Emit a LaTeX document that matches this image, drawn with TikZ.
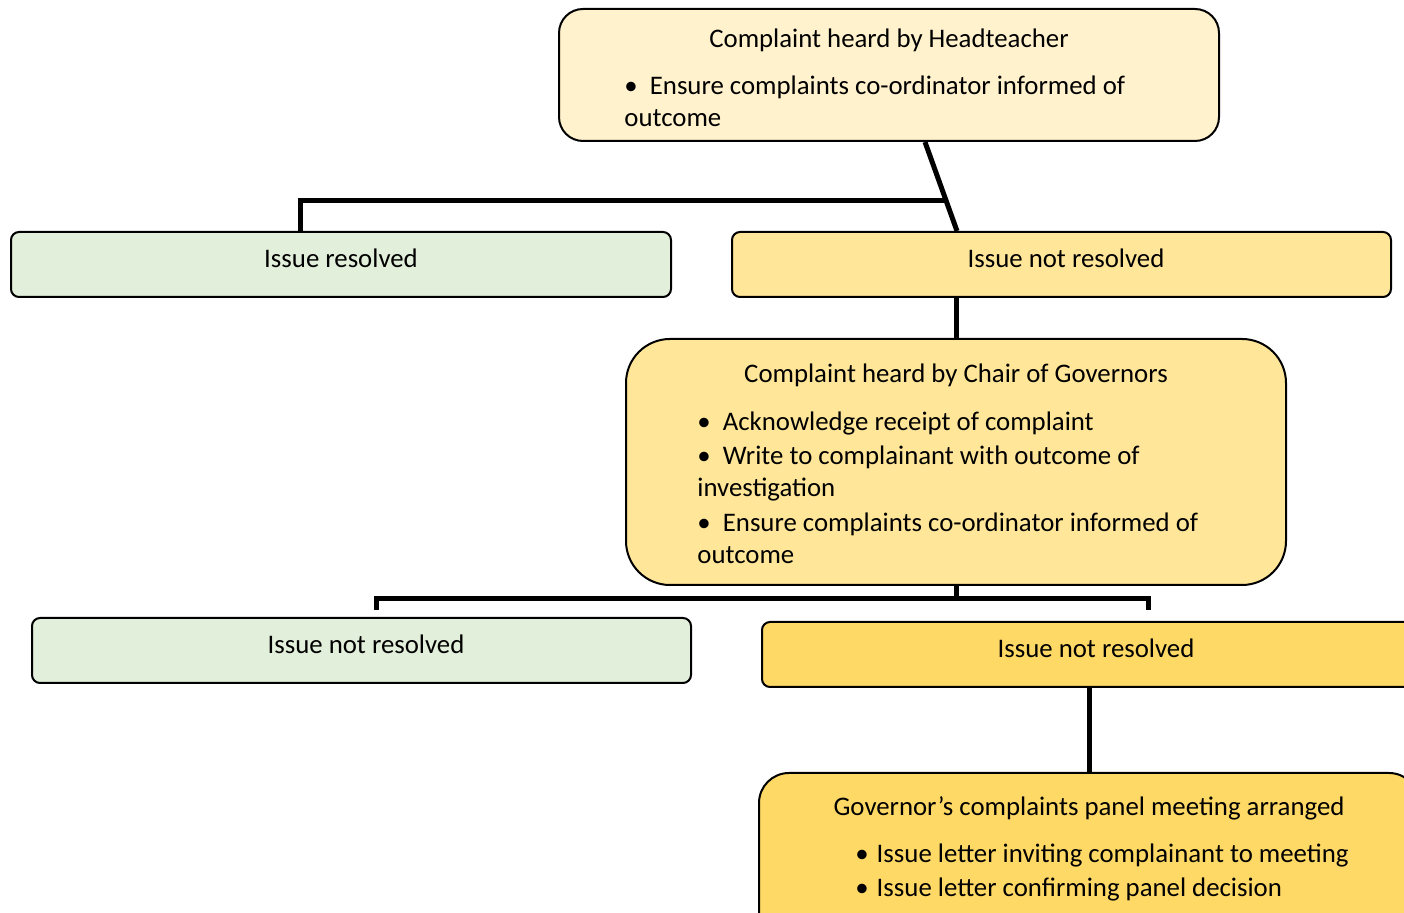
\documentclass[tikz,border=0pt]{standalone}
\usepackage{fontspec}
\setmainfont{Carlito}
\usetikzlibrary{calc}

\definecolor{paleyellow}{HTML}{FFF2CC}
\definecolor{palegreen}{HTML}{E2EFDA}
\definecolor{lightgold}{HTML}{FFE699}
\definecolor{gold}{HTML}{FFD966}

\tikzset{
  box/.style={draw=black, line width=1pt, inner sep=0pt},
  txt/.style={inner sep=0pt, font=\fontsize{13.4}{16}\selectfont},
  link/.style={line width=2.5pt}
}

\begin{document}
\begin{tikzpicture}[x=0.5pt, y=-0.5pt]
    \useasboundingbox (0,0) rectangle (1404,913);
    \clip (0,0) rectangle (1404,913);

    % boxes
    \node[box, fill=paleyellow, rounded corners=12pt, minimum width=330pt, minimum height=66pt] (head) at (889,75) {};
    \node[box, fill=palegreen, rounded corners=4pt, minimum width=330pt, minimum height=32.5pt] (res) at (341,264.5) {};
    \node[box, fill=lightgold, rounded corners=4pt, minimum width=329.5pt, minimum height=32.5pt] (nr1) at (1061.5,264.5) {};
    \node[box, fill=lightgold, rounded corners=22pt, minimum width=330pt, minimum height=123pt] (chair) at (956,462) {};
    \node[box, fill=palegreen, rounded corners=4pt, minimum width=329.5pt, minimum height=32.5pt] (nr2) at (361.5,650.5) {};
    \node[box, fill=gold, rounded corners=4pt, minimum width=333pt, minimum height=32.5pt] (nr3) at (1095,654.5) {};
    \node[box, fill=gold, rounded corners=15pt, minimum width=330pt, minimum height=86pt] (panel) at (1089,859) {};

    % texts
    \node[txt, anchor=mid] (headT) at (889,43) {Complaint heard by Headteacher};
    \node[txt, anchor=mid west] (headA) at (624,90) {•\ \ Ensure complaints co-ordinator informed of};
    \node[txt, anchor=mid west] (headB) at (624,122) {outcome};
    \node[txt, anchor=mid] (resT) at (341,263) {Issue resolved};
    \node[txt, anchor=mid] (nr1T) at (1066,263) {Issue not resolved};
    \node[txt, anchor=mid] (chairT) at (956,378) {Complaint heard by Chair of Governors};
    \node[txt, anchor=mid west] (chairA) at (697,426) {•\ \ Acknowledge receipt of complaint};
    \node[txt, anchor=mid west] (chairB) at (697,460) {•\ \ Write to complainant with outcome of};
    \node[txt, anchor=mid west] (chairC) at (697,492) {investigation};
    \node[txt, anchor=mid west] (chairD) at (697,527) {•\ \ Ensure complaints co-ordinator informed of};
    \node[txt, anchor=mid west] (chairE) at (697,559) {outcome};
    \node[txt, anchor=mid] (nr2T) at (366,649) {Issue not resolved};
    \node[txt, anchor=mid] (nr3T) at (1096,653) {Issue not resolved};
    \node[txt, anchor=mid] (panelT) at (1089,811) {Governor’s complaints panel meeting arranged};
    \node[txt, anchor=mid west] (panelA) at (855,858) {•\hspace{4pt}Issue letter inviting complainant to meeting};
    \node[txt, anchor=mid west] (panelB) at (855,892) {•\hspace{4pt}Issue letter confirming panel decision};

    % connectors
    \coordinate (split1) at ($([xshift=18pt]head.south)!0.66!([xshift=-52.25pt]nr1.north)$);
    \draw[link] ([xshift=18pt]head.south) -- ([xshift=-52.25pt]nr1.north);
    \draw[link] ([xshift=-20.5pt]res.north) |- (split1);
    \draw[link] (chair.north) -- (chair.north |- nr1.south);
    \draw[link] (chair.south) -- ++(0,13) coordinate (split2);
    \draw[link] ([xshift=7.25pt,yshift=3.5pt]nr2.north) |- (split2) -| ([xshift=26.5pt,yshift=5.5pt]nr3.north);
    \draw[link] (panel.north) -- (panel.north |- nr3.south);
\end{tikzpicture}
\end{document}
